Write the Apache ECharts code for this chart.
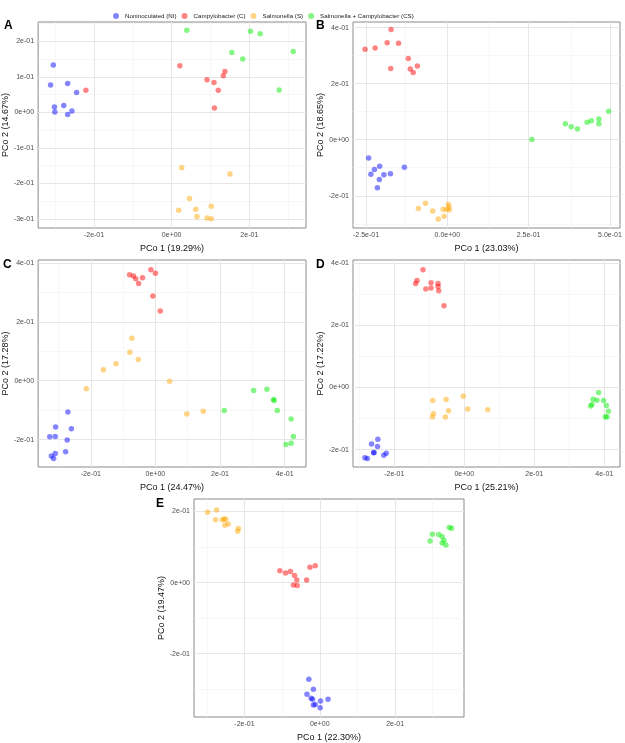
<!DOCTYPE html>
<html>
<head>
<meta charset="utf-8">
<script src="https://cdn.jsdelivr.net/npm/echarts@6/dist/echarts.min.js"></script>
<style>
  html, body { margin: 0; padding: 0; background: #fff; }
  #chart { width: 625px; height: 743px; }
</style>
</head>
<body>
<div id="chart"></div>
<script>
var groups = ['Noninoculated (NI)', 'Campylobacter (C)', 'Salmonella (S)', 'Salmonella + Campylobacter (CS)'];
var colors = ['rgba(0,0,255,0.6)', 'rgba(255,0,0,0.6)', 'rgba(255,165,0,0.6)', 'rgba(0,235,0,0.6)'];

// panel A  (PCo1 19.29%, PCo2 14.67%)
var A_NI = [[-0.305,0.133],[-0.312,0.077],[-0.268,0.081],[-0.245,0.056],[-0.302,0.015],[-0.301,0.001],[-0.278,0.019],[-0.268,-0.006],[-0.257,0.004]];
var A_C  = [[-0.221,0.062],[0.021,0.131],[0.091,0.092],[0.109,0.084],[0.133,0.103],[0.137,0.115],[0.120,0.062],[0.110,0.012]];
var A_S  = [[0.026,-0.156],[0.150,-0.173],[0.046,-0.242],[0.018,-0.275],[0.062,-0.272],[0.065,-0.293],[0.102,-0.264],[0.091,-0.297],[0.102,-0.299]];
var A_CS = [[0.039,0.231],[0.203,0.228],[0.228,0.221],[0.155,0.168],[0.183,0.150],[0.313,0.171],[0.277,0.063]];

// panel B  (PCo1 23.03%, PCo2 18.65%)
var B_NI = [[-0.242,-0.065],[-0.235,-0.123],[-0.224,-0.106],[-0.208,-0.095],[-0.209,-0.142],[-0.195,-0.125],[-0.175,-0.121],[-0.215,-0.171],[-0.132,-0.098]];
var B_C  = [[-0.173,0.393],[-0.253,0.323],[-0.222,0.327],[-0.185,0.346],[-0.150,0.344],[-0.174,0.254],[-0.120,0.290],[-0.114,0.252],[-0.105,0.240],[-0.092,0.263]];
var B_S  = [[-0.089,-0.245],[-0.067,-0.227],[-0.045,-0.254],[-0.028,-0.283],[-0.013,-0.248],[-0.010,-0.273],[0.003,-0.230],[0.005,-0.240],[0.006,-0.250],[-0.002,-0.249]];
var B_CS = [[0.260,0.001],[0.363,0.057],[0.381,0.046],[0.400,0.038],[0.430,0.062],[0.443,0.068],[0.466,0.074],[0.466,0.057],[0.496,0.102]];

// panel C  (PCo1 24.47%, PCo2 17.28%)
var C_NI = [[-0.271,-0.106],[-0.309,-0.157],[-0.260,-0.163],[-0.327,-0.190],[-0.310,-0.189],[-0.273,-0.201],[-0.278,-0.241],[-0.310,-0.247],[-0.322,-0.256],[-0.315,-0.264]];
var C_C  = [[-0.080,0.360],[-0.068,0.356],[-0.061,0.346],[-0.052,0.330],[-0.040,0.350],[-0.014,0.377],[0.000,0.365],[-0.008,0.288],[0.015,0.237]];
var C_S  = [[-0.073,0.144],[-0.079,0.097],[-0.053,0.072],[-0.122,0.058],[-0.161,0.037],[-0.214,-0.027],[0.044,-0.002],[0.097,-0.113],[0.148,-0.104]];
var C_CS = [[0.213,-0.101],[0.304,-0.033],[0.345,-0.029],[0.366,-0.064],[0.367,-0.067],[0.377,-0.101],[0.420,-0.130],[0.427,-0.189],[0.420,-0.212],[0.404,-0.217]];

// panel D  (PCo1 25.21%, PCo2 17.22%)
var D_NI = [[-0.247,-0.167],[-0.265,-0.182],[-0.248,-0.190],[-0.258,-0.209],[-0.259,-0.210],[-0.223,-0.212],[-0.230,-0.218],[-0.284,-0.226],[-0.277,-0.229]];
var D_C  = [[-0.118,0.379],[-0.135,0.344],[-0.139,0.334],[-0.110,0.317],[-0.095,0.337],[-0.095,0.320],[-0.075,0.334],[-0.075,0.325],[-0.073,0.311],[-0.058,0.263]];
var D_S  = [[-0.090,-0.042],[-0.052,-0.039],[-0.003,-0.028],[-0.088,-0.085],[-0.091,-0.095],[-0.054,-0.095],[-0.045,-0.075],[0.010,-0.069],[0.067,-0.072]];
var D_CS = [[0.384,-0.016],[0.368,-0.038],[0.379,-0.041],[0.398,-0.042],[0.361,-0.060],[0.365,-0.055],[0.406,-0.058],[0.412,-0.077],[0.403,-0.094],[0.408,-0.095]];

// panel E  (PCo1 22.30%, PCo2 19.47%)
var E_NI = [[-0.029,-0.272],[-0.017,-0.300],[-0.034,-0.314],[-0.023,-0.325],[-0.019,-0.328],[-0.017,-0.344],[-0.012,-0.343],[0.002,-0.333],[0.022,-0.328],[0.001,-0.352]];
var E_C  = [[-0.106,0.033],[-0.091,0.027],[-0.078,0.031],[-0.067,0.020],[-0.061,0.007],[-0.070,-0.007],[-0.060,-0.008],[-0.035,0.007],[-0.026,0.043],[-0.012,0.047]];
var E_S  = [[-0.298,0.198],[-0.274,0.204],[-0.277,0.177],[-0.259,0.177],[-0.254,0.179],[-0.250,0.178],[-0.252,0.161],[-0.243,0.165],[-0.216,0.152],[-0.218,0.144]];
var E_CS = [[0.299,0.136],[0.293,0.117],[0.316,0.135],[0.325,0.129],[0.330,0.118],[0.325,0.111],[0.335,0.106],[0.344,0.155],[0.350,0.153]];

// tick values and labels
var ticks2 = [-0.2, 0, 0.2];
var labels2 = ['-2e-01', '0e+00', '2e-01'];
var ticks4 = [-0.2, 0, 0.2, 0.4];
var labels4 = ['-2e-01', '0e+00', '2e-01', '4e-01'];
var ticksA_y = [-0.3, -0.2, -0.1, 0, 0.1, 0.2];
var labelsA_y = ['-3e-01', '-2e-01', '-1e-01', '0e+00', '1e-01', '2e-01'];
var ticksB_x = [-0.25, 0, 0.25, 0.5];
var labelsB_x = ['-2.5e-01', '0.0e+00', '2.5e-01', '5.0e-01'];

var panels = [
  { tag: 'A', tagPos: [4, 20], grid: [38, 22, 268, 206], x: [-0.344, 0.346], y: [-0.325, 0.254],
    xt: ticks2, xl: labels2, yt: ticksA_y, yl: labelsA_y,
    xName: 'PCo 1 (19.29%)', yName: 'PCo 2 (14.67%)', data: [A_NI, A_C, A_S, A_CS] },
  { tag: 'B', tagPos: [316, 20], grid: [353, 22, 267, 206], x: [-0.290, 0.531], y: [-0.315, 0.420],
    xt: ticksB_x, xl: labelsB_x, yt: ticks4, yl: labels4,
    xName: 'PCo 1 (23.03%)', yName: 'PCo 2 (18.65%)', data: [B_NI, B_C, B_S, B_CS] },
  { tag: 'C', tagPos: [3, 259], grid: [38, 260, 268, 207], x: [-0.363, 0.466], y: [-0.293, 0.410],
    xt: ticks4, xl: labels4, yt: ticks4, yl: labels4,
    xName: 'PCo 1 (24.47%)', yName: 'PCo 2 (17.28%)', data: [C_NI, C_C, C_S, C_CS] },
  { tag: 'D', tagPos: [316, 259], grid: [353, 260, 267, 207], x: [-0.318, 0.445], y: [-0.256, 0.410],
    xt: ticks4, xl: labels4, yt: ticks4, yl: labels4,
    xName: 'PCo 1 (25.21%)', yName: 'PCo 2 (17.22%)', data: [D_NI, D_C, D_S, D_CS] },
  { tag: 'E', tagPos: [156, 498], grid: [194, 499, 270, 221], x: [-0.334, 0.383], y: [-0.378, 0.235],
    xt: ticks2, xl: labels2, yt: ticks2, yl: labels2,
    xName: 'PCo 1 (22.30%)', yName: 'PCo 2 (19.47%)', data: [E_NI, E_C, E_S, E_CS] }
];

function minorOf(t, range) {
  var step = t[1] - t[0], out = [];
  for (var i = -1; i < t.length; i++) {
    var v = +(t[0] + (i + 0.5) * step).toFixed(4);
    if (v > range[0] && v < range[1]) out.push(v);
  }
  return out;
}

function tickFormatter(t, l) {
  return function (v) {
    var k = t.indexOf(+v.toFixed(4));
    return k < 0 ? '' : l[k];
  };
}

var font = 'Liberation Sans, Arial, sans-serif';
var grids = [], xAxes = [], yAxes = [], series = [], graphics = [];

panels.forEach(function (p, i) {
  grids.push({ left: p.grid[0], top: p.grid[1], width: p.grid[2], height: p.grid[3],
    show: true, borderColor: '#8a8a8a', borderWidth: 1, backgroundColor: '#fff' });

  xAxes.push({ gridIndex: i, type: 'value', min: p.x[0], max: p.x[1],
    name: p.xName, nameLocation: 'middle', nameGap: 16,
    nameTextStyle: { fontFamily: font, fontSize: 9, color: '#111' },
    axisLine: { show: false }, splitLine: { show: false },
    axisTick: { show: true, customValues: p.xt, length: 3, lineStyle: { color: '#333' } },
    axisLabel: { customValues: p.xt, fontFamily: font, fontSize: 7, color: '#4d4d4d', margin: 4,
      formatter: tickFormatter(p.xt, p.xl) } });

  yAxes.push({ gridIndex: i, type: 'value', min: p.y[0], max: p.y[1],
    name: p.yName, nameLocation: 'middle', nameGap: 28, nameRotate: 90,
    nameTextStyle: { fontFamily: font, fontSize: 9, color: '#111' },
    axisLine: { show: false }, splitLine: { show: false },
    axisTick: { show: true, customValues: p.yt, length: 3, lineStyle: { color: '#333' } },
    axisLabel: { customValues: p.yt, fontFamily: font, fontSize: 7, color: '#4d4d4d', margin: 4,
      formatter: tickFormatter(p.yt, p.yl) } });

  // background grid lines, kept under the points
  var lines = [];
  minorOf(p.xt, p.x).forEach(function (v) { lines.push({ xAxis: v, lineStyle: { color: '#f2f2f2', width: 0.6 } }); });
  minorOf(p.yt, p.y).forEach(function (v) { lines.push({ yAxis: v, lineStyle: { color: '#f2f2f2', width: 0.6 } }); });
  p.xt.forEach(function (v) { lines.push({ xAxis: v, lineStyle: { color: '#e6e6e6', width: 1 } }); });
  p.yt.forEach(function (v) { lines.push({ yAxis: v, lineStyle: { color: '#e6e6e6', width: 1 } }); });
  series.push({ type: 'line', name: 'grid' + i, xAxisIndex: i, yAxisIndex: i, data: [], z: 1,
    markLine: { silent: true, z: 1, symbol: ['none', 'none'], label: { show: false }, animation: false,
      lineStyle: { type: 'solid' }, data: lines } });

  p.data.forEach(function (d, g) {
    series.push({ type: 'scatter', name: groups[g], xAxisIndex: i, yAxisIndex: i,
      data: d, symbol: 'circle', symbolSize: 5.5, z: 10,
      itemStyle: { color: colors[g] } });
  });

  graphics.push({ type: 'text', left: p.tagPos[0], top: p.tagPos[1],
    style: { text: p.tag, font: 'bold 12px ' + font, fill: '#000' } });
});

var chart = echarts.init(document.getElementById('chart'));
chart.setOption({
  animation: false,
  legend: { data: groups, top: 8, left: 108, icon: 'circle', itemWidth: 6, itemHeight: 6, itemGap: 5,
    textStyle: { fontFamily: font, fontSize: 6.2, color: '#222', padding: [0, 0, 0, 1] } },
  grid: grids,
  xAxis: xAxes,
  yAxis: yAxes,
  series: series,
  graphic: graphics
});
</script>
</body>
</html>
